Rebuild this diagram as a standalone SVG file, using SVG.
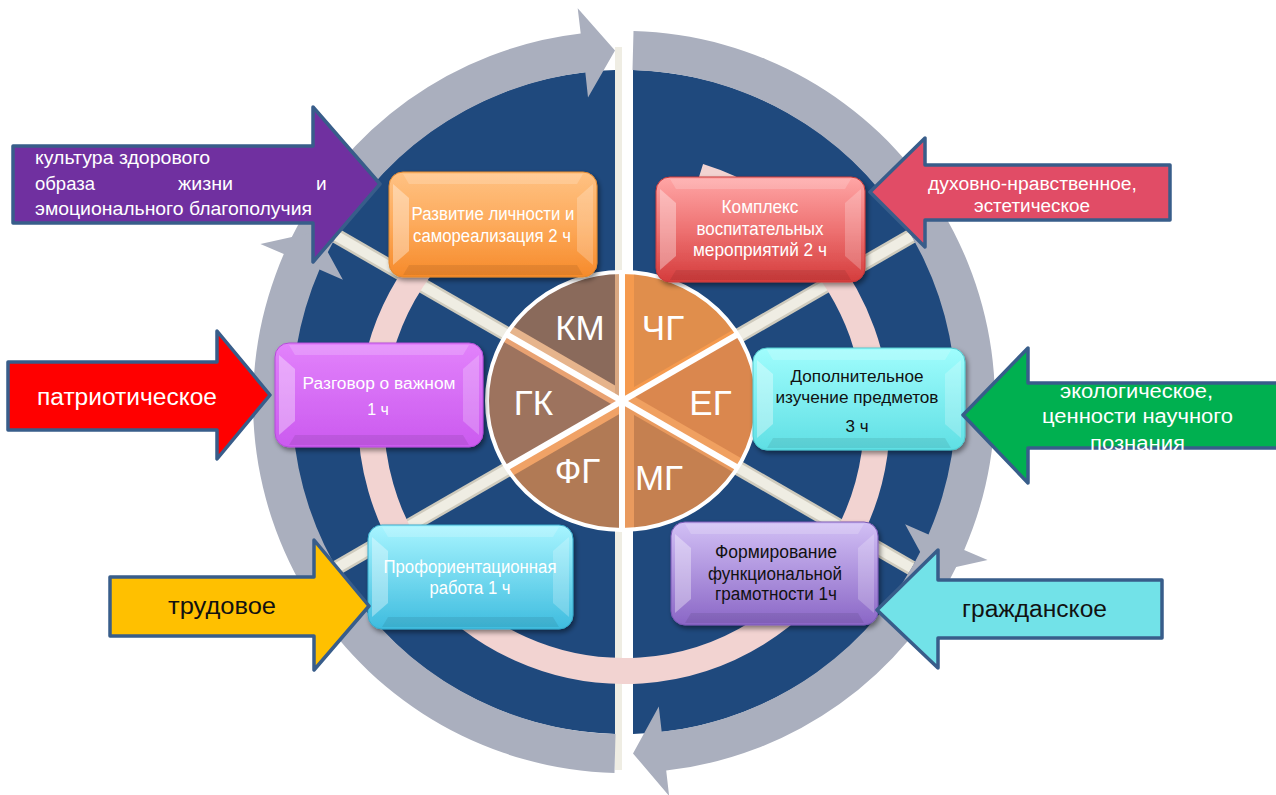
<svg xmlns="http://www.w3.org/2000/svg" width="1276" height="795" viewBox="0 0 1276 795">
<defs>
<style>
.blue{fill:#1F497D}
.ring{fill:#AAAFBE}
.spokeE{stroke:#CFCBBD;stroke-width:15}
.spoke{stroke:#EFEDE3;stroke-width:10}
.barrow{stroke:#385D8A;stroke-width:3.5;stroke-linejoin:round}
.t{font-family:"Liberation Sans",Arial,sans-serif}
.bt{font-family:"Liberation Sans",Arial,sans-serif;font-size:18px;text-anchor:middle}
.w{fill:#fff}
.k{fill:#111}
.pl{font-family:"Liberation Sans",Arial,sans-serif;font-size:35px;fill:#fff;text-anchor:middle}
.bvl{fill:#fff;opacity:.35}
.bvr{fill:#fff;opacity:.22}
.bvt{fill:#fff;opacity:.18}
.bvb{fill:#000;opacity:.08}
.div{stroke:#fff;stroke-width:6}
</style>
<linearGradient id="g1" x1="0" y1="0" x2="0" y2="1"><stop offset="0" stop-color="#FFC283"/><stop offset="0.5" stop-color="#FDAA5B"/><stop offset="1" stop-color="#F68A2A"/></linearGradient>
<linearGradient id="g2" x1="0" y1="0" x2="0" y2="1"><stop offset="0" stop-color="#FFA6A6"/><stop offset="0.5" stop-color="#EE7272"/><stop offset="1" stop-color="#D43C3C"/></linearGradient>
<linearGradient id="g3" x1="0" y1="0" x2="0" y2="1"><stop offset="0" stop-color="#E282FB"/><stop offset="1" stop-color="#CB5AEF"/></linearGradient>
<linearGradient id="g4" x1="0" y1="0" x2="0" y2="1"><stop offset="0" stop-color="#A0FDFD"/><stop offset="1" stop-color="#5FDFE4"/></linearGradient>
<linearGradient id="g5" x1="0" y1="0" x2="0" y2="1"><stop offset="0" stop-color="#A8F5FF"/><stop offset="1" stop-color="#3EBCDF"/></linearGradient>
<linearGradient id="g6" x1="0" y1="0" x2="0" y2="1"><stop offset="0" stop-color="#D2C0F5"/><stop offset="1" stop-color="#8A66C6"/></linearGradient>
<filter id="sh" x="-10%" y="-10%" width="125%" height="135%"><feDropShadow dx="2" dy="3" stdDeviation="2.5" flood-color="#000" flood-opacity="0.45"/></filter>
<clipPath id="cCG"><path d="M622,401 L622,272 A135,129 0 0 1 737.5,334.3 Z"/></clipPath>
<clipPath id="cEG"><path d="M622,401 L737.5,334.3 A135,129 0 0 1 737.5,467.7 Z"/></clipPath>
<clipPath id="cMG"><path d="M622,401 L737.5,467.7 A135,129 0 0 1 622,530 Z"/></clipPath>
<clipPath id="cFG"><path d="M622,401 L622,530 A135,129 0 0 1 506.5,467.7 Z"/></clipPath>
<clipPath id="cGK"><path d="M622,401 L506.5,467.7 A135,129 0 0 1 506.5,334.3 Z"/></clipPath>
<clipPath id="cKM"><path d="M622,401 L506.5,334.3 A135,129 0 0 1 622,272 Z"/></clipPath>
</defs>

<g id="background">
<path class="blue" d="M615,70.1 A332,332 0 0 0 615,733.9 Z"/>
<path class="blue" d="M633,70.1 A332,332 0 0 1 633,733.9 Z"/>
<line class="spokeE" x1="336.5" y1="236" x2="911.5" y2="568"/>
<line class="spokeE" x1="336.5" y1="568" x2="911.5" y2="236"/>
<line class="spoke" x1="336.5" y1="236" x2="911.5" y2="568"/>
<line class="spoke" x1="336.5" y1="568" x2="911.5" y2="236"/>
<rect x="615" y="47" width="7" height="723" fill="#EFEDE3"/>
<path d="M699.2,176.4 A253,253 0 1 1 517.1,188.7" fill="none" stroke="#F2D3D1" stroke-width="26"/>
</g>

<g id="connectors">
<path class="ring" d="M289.1,242.3 A371,371 0 0 1 580.7,33.5 L577.7,8.2 L615,50.6 L588,97.6 L585.3,72.3 A332,332 0 0 0 324.3,259.1 Z"/>
<path class="ring" d="M615.5,733.9 L614.5,772.9 A371,371 0 0 1 283.8,254.1 L260.4,243.9 L316.6,231.6 L342.9,279.8 L319.5,269.6 A332,332 0 0 0 615.5,733.9 Z"/>
<path class="ring" d="M958.9,561.7 A371,371 0 0 1 666.2,770.6 L669.1,795.9 L633,753.4 L658.8,706.5 L661.7,731.8 A332,332 0 0 0 923.7,544.9 Z"/>
<path class="ring" d="M633.5,31.1 A371,371 0 0 1 964.2,549.9 L987.6,560.1 L931.4,572.4 L905.1,524.2 L928.5,534.4 A332,332 0 0 0 632.5,70.1 Z"/>
</g>

<g id="pie">
<g id="seg-CG"><path d="M622,401 L622,272 A135,129 0 0 1 737.5,334.3 Z" fill="#E08E4C"/>
<g clip-path="url(#cCG)"><polygon points="622,401 622,261 634,261 634,401" fill="#F59A4E"/><polygon points="622,401 743.2,331 740.2,325.8 619,395.8" fill="#F59A4E"/></g></g>
<g id="seg-EG"><path d="M622,401 L737.5,334.3 A135,129 0 0 1 737.5,467.7 Z" fill="#DA874E"/>
<g clip-path="url(#cEG)"><polygon points="622,401 743.2,471 748.2,462.3 627,392.3" fill="#F0A060"/></g></g>
<g id="seg-MG"><path d="M622,401 L737.5,467.7 A135,129 0 0 1 622,530 Z" fill="#C58050"/>
<g clip-path="url(#cMG)"><polygon points="622,401 622,541 634,541 634,401" fill="#E99A5E"/><polygon points="622,401 743.2,471 740.2,476.2 619,406.2" fill="#E99A5E"/></g></g>
<g id="seg-FG"><path d="M622,401 L622,530 A135,129 0 0 1 506.5,467.7 Z" fill="#B17A55"/>
<g clip-path="url(#cFG)"><polygon points="622,401 500.8,471 505.8,479.7 627,409.7" fill="#F0A266"/></g></g>
<g id="seg-GK"><path d="M622,401 L506.5,467.7 A135,129 0 0 1 506.5,334.3 Z" fill="#9D735E"/>
<g clip-path="url(#cGK)"><polygon points="622,401 500.8,331 496.8,337.9 618,407.9" fill="#E9A272"/></g></g>
<g id="seg-KM"><path d="M622,401 L506.5,334.3 A135,129 0 0 1 622,272 Z" fill="#8A6A5B"/>
<g clip-path="url(#cKM)"><polygon points="622,401 500.8,331 505.8,322.3 627,392.3" fill="#E6B48C"/><polygon points="622,401 622,261 615,261 615,401" fill="#D9A882"/></g></g>
<line class="div" x1="622" y1="270" x2="622" y2="532"/>
<line class="div" x1="506.5" y1="334.3" x2="737.5" y2="467.7"/>
<line class="div" x1="506.5" y1="467.7" x2="737.5" y2="334.3"/>
<ellipse cx="622" cy="401" rx="135" ry="129" fill="none" stroke="#fff" stroke-width="4"/>
<text class="pl" x="580" y="340">КМ</text>
<text class="pl" x="663" y="340">ЧГ</text>
<text class="pl" x="533.5" y="415">ГК</text>
<text class="pl" x="710.5" y="415">ЕГ</text>
<text class="pl" x="577.5" y="483">ФГ</text>
<text class="pl" x="659" y="490">МГ</text>
</g>

<g id="box-razvitie">
<g transform="translate(389,172)" filter="url(#sh)"><rect width="208" height="105" rx="14" fill="url(#g1)" stroke="#E0872F"/></g>
<g transform="translate(389,172)"><polygon class="bvl" points="4,12 20,26 20,79 4,93"/><polygon class="bvr" points="204,12 188,26 188,79 204,93"/><polygon class="bvt" points="14,2 194,2 188,12 20,12"/><polygon class="bvb" points="20,93 188,93 194,103 14,103"/></g>
<text class="bt w" x="493" y="220" textLength="163" lengthAdjust="spacingAndGlyphs">Развитие личности и</text>
<text class="bt w" x="492" y="242" textLength="158" lengthAdjust="spacingAndGlyphs">самореализация 2 ч</text>
</g>

<g id="box-kompleks">
<g transform="translate(656,177)" filter="url(#sh)"><rect width="209" height="105" rx="14" fill="url(#g2)" stroke="#C83838"/></g>
<g transform="translate(656,177)"><polygon class="bvl" points="4,12 20,26 20,79 4,93"/><polygon class="bvr" points="205,12 189,26 189,79 205,93"/><polygon class="bvt" points="14,2 195,2 189,12 20,12"/><polygon class="bvb" points="20,93 189,93 195,103 14,103"/></g>
<text class="bt w" x="760" y="213" textLength="77" lengthAdjust="spacingAndGlyphs">Комплекс</text>
<text class="bt w" x="760" y="235" textLength="127" lengthAdjust="spacingAndGlyphs">воспитательных</text>
<text class="bt w" x="760" y="256" textLength="134" lengthAdjust="spacingAndGlyphs">мероприятий 2 ч</text>
</g>

<g id="box-razgovor">
<g transform="translate(275,343)" filter="url(#sh)"><rect width="208" height="104" rx="14" fill="url(#g3)" stroke="#B54CD8"/></g>
<g transform="translate(275,343)"><polygon class="bvl" points="4,12 20,26 20,78 4,92"/><polygon class="bvr" points="204,12 188,26 188,78 204,92"/><polygon class="bvt" points="14,2 194,2 188,12 20,12"/><polygon class="bvb" points="20,92 188,92 194,102 14,102"/></g>
<text class="bt w" x="379" y="389" style="font-size:16px" textLength="153" lengthAdjust="spacingAndGlyphs">Разговор о важном</text>
<text class="bt w" x="378" y="415" style="font-size:16px">1 ч</text>
</g>

<g id="box-dopolnitelnoe">
<g transform="translate(753,348)" filter="url(#sh)"><rect width="212" height="102" rx="14" fill="url(#g4)" stroke="#4FC9CF"/></g>
<g transform="translate(753,348)"><polygon class="bvl" points="4,12 20,26 20,76 4,90"/><polygon class="bvr" points="208,12 192,26 192,76 208,90"/><polygon class="bvt" points="14,2 198,2 192,12 20,12"/><polygon class="bvb" points="20,90 192,90 198,100 14,100"/></g>
<text class="bt k" x="857" y="382" style="font-size:17px" textLength="133" lengthAdjust="spacingAndGlyphs">Дополнительное</text>
<text class="bt k" x="857" y="403" style="font-size:17px" textLength="163" lengthAdjust="spacingAndGlyphs">изучение предметов</text>
<text class="bt k" x="857" y="432" style="font-size:17px">3 ч</text>
</g>

<g id="box-proforientacia">
<g transform="translate(368,525)" filter="url(#sh)"><rect width="205" height="104" rx="14" fill="url(#g5)" stroke="#38AACB"/></g>
<g transform="translate(368,525)"><polygon class="bvl" points="4,12 20,26 20,78 4,92"/><polygon class="bvr" points="201,12 185,26 185,78 201,92"/><polygon class="bvt" points="14,2 191,2 185,12 20,12"/><polygon class="bvb" points="20,92 185,92 191,102 14,102"/></g>
<text class="bt w" x="470" y="573" textLength="173" lengthAdjust="spacingAndGlyphs">Профориентационная</text>
<text class="bt w" x="470" y="594" textLength="81" lengthAdjust="spacingAndGlyphs">работа 1 ч</text>
</g>

<g id="box-formirovanie">
<g transform="translate(671,522)" filter="url(#sh)"><rect width="207" height="103" rx="14" fill="url(#g6)" stroke="#7A58B5"/></g>
<g transform="translate(671,522)"><polygon class="bvl" points="4,12 20,26 20,77 4,91"/><polygon class="bvr" points="203,12 187,26 187,77 203,91"/><polygon class="bvt" points="14,2 193,2 187,12 20,12"/><polygon class="bvb" points="20,91 187,91 193,101 14,101"/></g>
<text class="bt k" x="776" y="558" textLength="122" lengthAdjust="spacingAndGlyphs">Формирование</text>
<text class="bt k" x="775" y="580" textLength="134" lengthAdjust="spacingAndGlyphs">функциональной</text>
<text class="bt k" x="776" y="600" textLength="122" lengthAdjust="spacingAndGlyphs">грамотности 1ч</text>
</g>

<g id="arrow-zdorovie">
<path class="barrow" fill="#7030A0" d="M13,146 L313,146 L313,107 L380,184 L313,262 L313,223 L13,223 Z"/>
<text class="t w" style="font-size:19px" x="35" y="164" textLength="175" lengthAdjust="spacingAndGlyphs">культура здорового</text>
<text class="t w" style="font-size:19px" x="35" y="190" textLength="60" lengthAdjust="spacingAndGlyphs">образа</text>
<text class="t w" style="font-size:19px" x="178" y="190" textLength="55" lengthAdjust="spacingAndGlyphs">жизни</text>
<text class="t w" style="font-size:19px" x="316" y="190">и</text>
<text class="t w" style="font-size:19px" x="35" y="215" textLength="277" lengthAdjust="spacingAndGlyphs">эмоционального благополучия</text>
</g>

<g id="arrow-patriot">
<path class="barrow" fill="#FF0000" d="M8,362 L217,362 L217,331 L270,395 L217,459 L217,430 L8,430 Z"/>
<text class="t w" style="font-size:23px" x="37" y="405" textLength="180" lengthAdjust="spacingAndGlyphs">патриотическое</text>
</g>

<g id="arrow-trud">
<path class="barrow" fill="#FFC000" d="M110,577 L314,577 L314,540 L369,606 L314,670 L314,636 L110,636 Z"/>
<text class="t k" style="font-size:23px;text-anchor:middle" x="222" y="614" textLength="108" lengthAdjust="spacingAndGlyphs">трудовое</text>
</g>

<g id="arrow-duhovno">
<path class="barrow" fill="#E14C66" d="M870,192 L925,138 L925,165 L1170,165 L1170,220 L925,220 L925,247 Z"/>
<text class="t w" style="font-size:18px;text-anchor:middle" x="1032.5" y="190" textLength="209" lengthAdjust="spacingAndGlyphs">духовно-нравственное,</text>
<text class="t w" style="font-size:18px;text-anchor:middle" x="1032" y="212" textLength="116" lengthAdjust="spacingAndGlyphs">эстетическое</text>
</g>

<g id="arrow-ekolog">
<path class="barrow" fill="#00B050" d="M963,415 L1028,348 L1028,383 L1282,383 L1282,448 L1028,448 L1028,483 Z"/>
<text class="t w" style="font-size:20px;text-anchor:middle" x="1136.5" y="398" textLength="153" lengthAdjust="spacingAndGlyphs">экологическое,</text>
<text class="t w" style="font-size:20px;text-anchor:middle" x="1137.5" y="423" textLength="191" lengthAdjust="spacingAndGlyphs">ценности научного</text>
<text class="t w" style="font-size:20px;text-anchor:middle" x="1137.5" y="450" textLength="95" lengthAdjust="spacingAndGlyphs">познания</text>
</g>

<g id="arrow-grazhdan">
<path class="barrow" fill="#72E2E8" d="M877,610 L938,550 L938,580 L1162,580 L1162,638 L938,638 L938,668 Z"/>
<text class="t k" style="font-size:23px;text-anchor:middle" x="1034.5" y="617" textLength="145" lengthAdjust="spacingAndGlyphs">гражданское</text>
</g>
</svg>
